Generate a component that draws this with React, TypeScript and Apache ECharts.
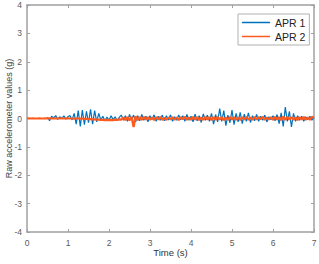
import React, { useEffect, useRef } from "react";
import * as echarts from "echarts";

const xTicks = [0, 1, 2, 3, 4, 5, 6, 7];
const yTicks = [-4, -3, -2, -1, 0, 1, 2, 3, 4];

// APR 1: sampled from t = 0.5 s every 0.05 s
const apr1Start = 0.5;
const apr1Step = 0.05;
const apr1Values = [
  0.05, -0.08, 0.08, 0.02, 0.1, -0.03, 0.06, 0.0, 0.09, -0.02,
  0.07, 0.1, -0.05, 0.18, -0.2, 0.28, -0.28, 0.3, -0.22, 0.25,
  -0.15, 0.32, -0.2, 0.28, -0.12, 0.18, -0.05, 0.08, -0.08, 0.05,
  -0.06, 0.1, -0.04, 0.06, -0.08, 0.04, 0.12, -0.06, 0.1, -0.1,
  0.14, -0.05, 0.12, -0.12, 0.1, -0.08, 0.14, -0.06, 0.08, -0.12,
  0.1, -0.04, 0.13, -0.1, 0.08, -0.06, 0.12, -0.08, 0.1, -0.05,
  0.13, -0.1, 0.06, -0.06, 0.12, -0.04, 0.1, -0.1, 0.14, -0.06,
  0.08, -0.12, 0.15, -0.08, 0.1, -0.14, 0.16, -0.06, 0.12, -0.1,
  0.18, -0.2, 0.14, -0.12, 0.35, -0.1, 0.28, -0.25, 0.12, -0.15,
  0.3, -0.22, 0.18, -0.12, 0.22, -0.18, 0.15, -0.1, 0.2, -0.14,
  0.1, -0.08, 0.14, -0.1, 0.08, -0.06, 0.12, -0.12, 0.06, -0.04,
  0.1, -0.08, 0.14, -0.18, 0.2, -0.28, 0.4, -0.1, 0.25, -0.3,
  0.18, -0.1, 0.1, -0.06, 0.08, -0.1, 0.06, -0.04, 0.08, -0.06,
  0.04,
];

// APR 2: sampled from t = 0 s every 0.05 s
const apr2Start = 0;
const apr2Step = 0.05;
const apr2Values = [
  0, 0.01, 0, 0.01, 0, 0, 0.01, 0, 0, 0.01,
  0, 0.01, 0, 0, 0.01, 0, 0, 0.01, 0, 0,
  0.01, 0, 0, -0.01, 0, 0, -0.01, 0, -0.01, -0.01,
  -0.02, -0.02, -0.03, -0.03, -0.04, -0.04, -0.05, -0.05, -0.06, -0.05,
  -0.06, -0.05, -0.06, -0.04, -0.05, -0.03, -0.04, 0.04, -0.06, 0.05,
  -0.07, 0.06, -0.3, 0.08, -0.06, 0.05, -0.05, 0.06, -0.04, 0.05,
  -0.05, 0.04, -0.06, 0.05, -0.04, 0.06, -0.05, 0.03, -0.05, 0.04,
  -0.04, 0.05, -0.05, 0.04, -0.06, 0.05, -0.03, 0.06, -0.05, 0.04,
  -0.05, 0.06, -0.04, 0.05, -0.06, 0.04, -0.05, 0.06, -0.04, 0.05,
  -0.06, 0.05, -0.05, 0.06, -0.04, 0.05, -0.06, 0.04, -0.05, 0.06,
  -0.04, 0.05, -0.05, 0.04, -0.06, 0.05, -0.04, 0.06, -0.05, 0.04,
  -0.05, 0.06, -0.04, 0.05, -0.03, 0.06, -0.05, 0.04, -0.04, 0.05,
  -0.05, 0.06, -0.04, 0.05, -0.06, 0.07, -0.05, 0.06, -0.04, 0.05,
  -0.05, 0.04, -0.06, 0.05, -0.04, 0.06, -0.05, 0.04, -0.05, 0.06,
  0.03,
];

const seriesNames = ["APR 1", "APR 2"];
const colors = ["#0072BD", "#FF5A1E"];

const toPairs = (start: number, step: number, vals: number[]) =>
  vals.map((v, i) => [+(start + i * step).toFixed(3), v]);

export default function App() {
  const ref = useRef<HTMLDivElement>(null);
  useEffect(() => {
    if (!ref.current) return;
    const chart = echarts.init(ref.current, undefined, { renderer: "svg" });
    const axisColor = "#a0a0a0";
    const labelColor = "#5a5a5a";
    const font = "Liberation Sans, Arial, sans-serif";
    chart.setOption({
      animation: false,
      backgroundColor: "#fff",
      grid: {
        left: 27,
        right: 5,
        top: 5,
        bottom: 32,
        containLabel: false,
        outerBoundsMode: "none",
      },
      legend: {
        orient: "vertical",
        left: 238,
        top: 14,
        padding: [3, 4, 3, 4],
        itemGap: 3,
        itemWidth: 28,
        itemHeight: 1.5,
        icon: "rect",
        borderColor: "#b0b0b0",
        borderWidth: 1,
        backgroundColor: "#fff",
        textStyle: { fontSize: 10.5, color: "#222", fontFamily: font },
        data: seriesNames,
      },
      xAxis: [
        {
          type: "value",
          min: 0,
          max: 7,
          interval: 1,
          name: "Time (s)",
          nameLocation: "middle",
          nameGap: 15,
          nameMoveOverlap: false,
          nameTextStyle: { fontSize: 9.5, color: "#333", fontFamily: font, verticalAlign: "top" },
          axisLine: { show: true, onZero: false, lineStyle: { color: axisColor, width: 1.5 } },
          axisTick: { show: true, inside: true, length: 3, lineStyle: { color: axisColor } },
          axisLabel: { fontSize: 8.5, color: labelColor, margin: 6, fontFamily: font },
          splitLine: { show: false },
        },
        {
          type: "value",
          position: "top",
          min: 0,
          max: 7,
          interval: 1,
          axisLine: { show: true, onZero: false, lineStyle: { color: axisColor, width: 1.5 } },
          axisTick: { show: true, inside: true, length: 3, lineStyle: { color: axisColor } },
          axisLabel: { show: false },
          splitLine: { show: false },
        },
      ],
      yAxis: [
        {
          type: "value",
          min: -4,
          max: 4,
          interval: 1,
          name: "Raw accelerometer values (g)",
          nameLocation: "middle",
          nameGap: 14,
          nameMoveOverlap: false,
          nameTextStyle: { fontSize: 9, color: "#444", fontFamily: font },
          axisLine: { show: true, onZero: false, lineStyle: { color: axisColor, width: 1.5 } },
          axisTick: { show: true, inside: true, length: 3, lineStyle: { color: axisColor } },
          axisLabel: { fontSize: 8.5, color: labelColor, margin: 5, fontFamily: font },
          splitLine: { show: false },
        },
        {
          type: "value",
          position: "right",
          min: -4,
          max: 4,
          interval: 1,
          axisLine: { show: true, onZero: false, lineStyle: { color: axisColor, width: 1.5 } },
          axisTick: { show: true, inside: true, length: 3, lineStyle: { color: axisColor } },
          axisLabel: { show: false },
          splitLine: { show: false },
        },
      ],
      series: [
        {
          name: seriesNames[0],
          type: "line",
          xAxisIndex: 0,
          yAxisIndex: 0,
          showSymbol: false,
          symbol: "none",
          color: colors[0],
          lineStyle: { width: 1.2, color: colors[0] },
          data: toPairs(apr1Start, apr1Step, apr1Values),
        },
        {
          name: seriesNames[1],
          type: "line",
          xAxisIndex: 0,
          yAxisIndex: 0,
          showSymbol: false,
          symbol: "none",
          color: colors[1],
          lineStyle: { width: 2.2, color: colors[1] },
          data: toPairs(apr2Start, apr2Step, apr2Values),
        },
      ],
    });
    return () => chart.dispose();
  }, []);
  return (
    <div
      ref={ref}
      style={{ position: "fixed", left: 0, top: 0, width: 319, height: 264 }}
    />
  );
}
